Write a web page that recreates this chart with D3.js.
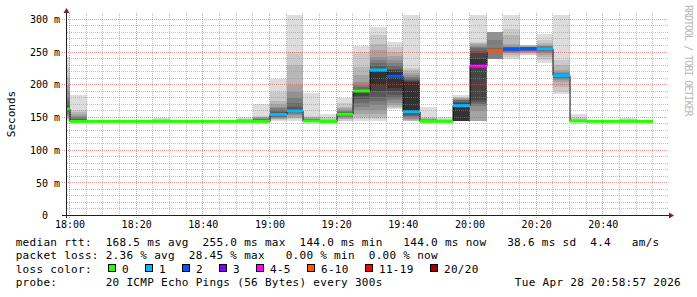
<!DOCTYPE html>
<html><head><meta charset="utf-8">
<script src="https://cdn.jsdelivr.net/npm/d3@7"></script>
<style>
html,body{margin:0;padding:0;background:#fff;}
svg{display:block;}
text{font-family:"DejaVu Sans Mono",monospace;white-space:pre;}
</style></head><body>
<svg id="chart" width="697" height="297"></svg>
<script>
// ---- data ----
const stepStarts = ["17:55","18:00","18:05","18:10","18:15","18:20","18:25","18:30","18:35","18:40","18:45","18:50",
  "18:55","19:00","19:05","19:10","19:15","19:20","19:25","19:30","19:35","19:40","19:45","19:50",
  "19:55","20:00","20:05","20:10","20:15","20:20","20:25","20:30","20:35","20:40","20:45","20:50"];
const medians = [163,144,144,144,144,144,144,144,144,144,144,144,
  144,154.5,160,144.5,143.8,155,190.5,222.5,213,158.5,144,144,
  168,228.5,252.5,254.5,255,255,214,144.5,144,144,144,144];
const losses = [0,0,0,0,0,0,0,0,0,0,0,0,
  0,1,1,0,0,0,0,1,2,1,0,0,
  1,4,7,2,2,1,1,0,0,0,0,0];
const pings = [
  [144,146,148,150,152,155,158,160,162,163,164,166,170,175,182,190,200,212,225,242],
  [144,144,144,144,144,144,144,144,144,145,145,146,147,148,150,152,155,158,162,184],
  [144,144,144,144,144,144,144,144,144,144,144,144,144,144,144,144,144,144,144,144],
  [144,144,144,144,144,144,144,144,144,144,144,144,144,144,144,144,144,144,144,144],
  [144,144,144,144,144,144,144,144,144,144,144,144,144,144,144,144,144,144,144,144],
  [144,144,144,144,144,144,144,144,144,144,144,144,144,144,144,144,144,144,144,144],
  [144,144,144,144,144,144,144,144,144,144,144,144,144,144,144,145,145,146,147,149],
  [144,144,144,144,144,144,144,144,144,144,144,144,144,144,144,144,144,144,144,144],
  [144,144,144,144,144,144,144,144,144,144,144,144,144,144,144,144,144,144,144,144],
  [144,144,144,144,144,144,144,144,144,144,144,144,144,144,144,144,144,144,144,144],
  [144,144,144,144,144,144,144,144,144,144,144,144,144,144,144,144,144,144,144,144],
  [144,144,144,144,144,144,144,144,144,144,144,144,144,144,144,145,146,147,148,150],
  [144,144,144,144,144,144,144,144,144,145,145,146,146,147,148,149,150,151,152,170],
  [145,146,147,148,149,150,151,152,153,154,155,156,158,161,164,166,170,175,189,209],
  [145,147,149,151,153,155,157,158,159,160,161,163,166,172,180,189,200,230,250,307],
  [144,144,144,144,144,144,144,144,145,145,145,146,146,147,147,148,149,150,152,187],
  [143,143,143,143,143,144,144,144,144,144,144,144,144,144,145,145,146,147,150,155],
  [144,145,147,148,150,151,152,153,154,155,156,157,158,159,160,162,164,166,172,180],
  [144,148,151,156,161,166,172,178,183,190,191,192,193,196,200,204,215,227,250,259],
  [144,147,151,156,162,169,175,181,190,199,223,224,228,233,238,243,253,263,276,288],
  [163,164,166,169,172,176,180,185,190,195,220,222,224,228,233,238,244,250,258,265],
  [144,144,144,146,148,150,152,154,156,160,204,206,208,210,212,215,218,222,226,307],
  [144,144,144,144,144,144,144,144,144,144,144,145,145,146,146,147,148,149,151,166],
  [144,144,144,144,144,144,144,144,144,144,144,144,144,144,144,144,145,146,148,150],
  [144,144,144,144,144,144,144,144,144,144,170,172,174,176,177,178,179,180,181,184],
  [144,144,144,144,160,168,171,174,176,229,240,248,252,256,258,260,263,264,265,307],
  [239,239,239,239,239,240,250,251,252,252,253,254,255,256,268,280,280,280,280,280],
  [240,243,246,248,249,250,251,252,253,253.5,255.5,256,256.5,257,258,260,263,276,286,307],
  [245,246,248,249,250,251,252,253,254,254.5,255.5,256,257,257.5,258,258.5,259,260,261,261.5],
  [234,238,242,246,248,250,252,253,254,254.5,255.5,256,257,258,259,260,261,264,268,277.5],
  [186,189,197,204,207,209,211,212,213,213.5,214.5,215,216,217,218,220,222,230,238,307],
  [144,144,144,144,144,144,144,144,144,144,144,144,144,144,145,145,146,148,150,155],
  [144,144,144,144,144,144,144,144,144,144,144,144,144,144,144,144,144,144,144,144],
  [144,144,144,144,144,144,144,144,144,144,144,144,144,144,144,144,144,144,144,144],
  [144,144,144,144,144,144,144,144,144,144,144,144,144,144,144,144,145,146,147,149],
  [144,144,144,144,144,144,144,144,144,144,144,144,144,144,144,144,144,144,144,144]
];
const yTicks = [0,50,100,150,200,250,300];
const lossLabels = ["0","1","2","3","4-5","6-10","11-19","20/20"];
const lossUpper  = [0,1,2,3,5,10,19,20];
const lossColors = ["#26ff00","#00b8ff","#0059ff","#7e00ff","#ff00ff","#ff5500","#ff0000","#a10000"];
const rttValues = [168.5,255.0,144.0,144.0];
const rttNames = ["avg","max","min","now"];
const rttSd = 38.6, rttAmS = 4.4;
const lossValues = [2.36,28.45,0.00,0.00];
const probeText = "20 ICMP Echo Pings (56 Bytes) every 300s";
const stampText = "Tue Apr 28 20:58:57 2026";

// ---- layout ----
const svg = d3.select("#chart");
svg.append("rect").attr("width",697).attr("height",297).attr("fill","#fff");
const parseT = d3.timeParse("%Y-%m-%d %H:%M");
const starts = stepStarts.map(s => parseT("2026-04-28 " + s));
const t0 = new Date(2026,3,28,17,59,15), t1 = new Date(2026,3,28,20,59,15);
const x = d3.scaleTime().domain([t0,t1]).range([67,667]);
const y = d3.scaleLinear().domain([0,309]).range([215.5,13.5]);
const px = t => Math.round(x(t) + 0.5);
const lossColor = l => lossColors[lossUpper.findIndex(u => l <= u)];

svg.append("clipPath").attr("id","clip").append("rect")
  .attr("x",67).attr("y",13).attr("width",600).attr("height",202.5);
const plot = svg.append("g").attr("clip-path","url(#clip)");

// smoke
const smoke = [];
starts.forEach((t,i) => {
  const p = pings[i];
  const x0 = px(t), x1 = px(d3.timeMinute.offset(t,5));
  for (let k = 0; k < 10; k++) {
    const lo = p[k], hi = p[19-k];
    if (hi > lo) smoke.push({x0, x1, lo, hi, g: 221 - 19*k});
  }
});
plot.selectAll("rect.smoke").data(smoke).join("rect").attr("class","smoke")
  .attr("x",d=>d.x0).attr("width",d=>d.x1-d.x0)
  .attr("y",d=>y(d.hi)).attr("height",d=>y(d.lo)-y(d.hi))
  .attr("fill",d=>`rgb(${d.g},${d.g},${d.g})`).attr("shape-rendering","crispEdges");

// grid
const grid = svg.append("g").attr("shape-rendering","crispEdges").attr("stroke-dasharray","1,1");
const minorT = d3.timeMinute.every(5).range(t0,t1);
grid.selectAll("line.vx").data(minorT).join("line")
  .attr("x1",t=>Math.floor(x(t))+0.5).attr("x2",t=>Math.floor(x(t))+0.5)
  .attr("y1",13).attr("y2",t=>t.getMinutes()%20===0?218:215)
  .attr("stroke",t=>t.getMinutes()%20===0?"rgba(222,79,79,0.6)":"rgba(143,143,143,0.55)");
const hVals = d3.range(10,301,10);
grid.selectAll("line.hy").data(hVals).join("line")
  .attr("x1",v=>v%50===0?62:67).attr("x2",668)
  .attr("y1",v=>Math.floor(y(v))+0.5).attr("y2",v=>Math.floor(y(v))+0.5)
  .attr("stroke",v=>v%50===0?"rgba(222,79,79,0.6)":"rgba(143,143,143,0.55)");

// median step line and loss-coloured bands
const stepPts = starts.map((t,i)=>[t,medians[i]]).concat([[d3.timeMinute.offset(starts[starts.length-1],5), medians[medians.length-1]]]);
plot.append("path").datum(stepPts)
  .attr("d", d3.line().x(d=>px(d[0])).y(d=>y(d[1])).curve(d3.curveStepAfter))
  .attr("fill","none").attr("stroke","#000").attr("stroke-width",1);
plot.selectAll("rect.med").data(starts).join("rect").attr("class","med")
  .attr("x",t=>px(t)).attr("width",t=>px(d3.timeMinute.offset(t,5))-px(t))
  .attr("y",(t,i)=>y(medians[i])-1.5).attr("height",3)
  .attr("fill",(t,i)=>lossColor(losses[i]));

// axes
const yAxis = d3.axisLeft(y).tickValues(yTicks).tickSize(0).tickPadding(7)
  .tickFormat(v => v === 0 ? "0  " : v + " m");
const gy = svg.append("g").attr("transform","translate(67,0)").call(yAxis);
gy.select(".domain").remove();
gy.selectAll("text").attr("font-family","DejaVu Sans Mono").attr("font-size",10).attr("fill","#000");

const xAxis = d3.axisBottom(x).ticks(d3.timeMinute.every(20)).tickFormat(d3.timeFormat("%H:%M"))
  .tickSize(0).tickPadding(5.5);
const gx = svg.append("g").attr("transform","translate(0,215.5)").call(xAxis);
gx.select(".domain").remove();
gx.selectAll("text").attr("font-family","DejaVu Sans Mono").attr("font-size",10).attr("fill","#000");

svg.append("line").attr("x1",62).attr("x2",669).attr("y1",215.5).attr("y2",215.5).attr("stroke","#1f1f1f");
svg.append("line").attr("x1",66.5).attr("x2",66.5).attr("y1",218).attr("y2",12).attr("stroke","#1f1f1f");
svg.append("path").attr("d","M669,212.5L674,215.5L669,218.5Z").attr("fill","#801f1f");
svg.append("path").attr("d","M63.5,13L66.5,8L69.5,13Z").attr("fill","#801f1f");

// axis title
svg.append("text").attr("transform","translate(14.5,114) rotate(-90)").attr("text-anchor","middle")
  .attr("font-size",11).attr("fill","#000").text("Seconds");

// watermark
svg.append("text").attr("transform","translate(684.5,5) rotate(90)")
  .attr("font-size",10).attr("letter-spacing",-1).attr("fill","#b8b8b8").text("RRDTOOL / TOBI OETIKER");

// legend
const leg = svg.append("g").attr("font-size",11).attr("letter-spacing",0.3).attr("fill","#000");
const f1 = v => v.toFixed(1), f2 = v => v.toFixed(2);
const line1 = "median rtt:  " + f1(rttValues[0]) + " ms " + rttNames[0] + "  " + f1(rttValues[1]) + " ms " + rttNames[1] +
  "  " + f1(rttValues[2]) + " ms " + rttNames[2] + "   " + f1(rttValues[3]) + " ms " + rttNames[3] +
  "   " + f1(rttSd) + " ms sd  " + f1(rttAmS) + "   am/s";
const line2 = "packet loss: " + f2(lossValues[0]) + " % avg  " + f2(lossValues[1]) + " % max   " +
  f2(lossValues[2]) + " % min  " + f2(lossValues[3]) + " % now";
leg.append("text").attr("x",15.7).attr("y",245.5).text(line1);
leg.append("text").attr("x",15.7).attr("y",259).text(line2);
leg.append("text").attr("x",15.7).attr("y",272.8).text("loss color:");
leg.append("text").attr("x",15.7).attr("y",286.3).text("probe:       " + probeText);
leg.append("text").attr("x",681).attr("y",286.3).attr("text-anchor","end").text(stampText);
let bx = 108.5;
lossLabels.forEach((lab,i) => {
  leg.append("rect").attr("x",bx).attr("y",264.5).attr("width",7).attr("height",7)
    .attr("fill",lossColors[i]).attr("stroke","#000").attr("stroke-width",1);
  leg.append("text").attr("x",bx+13.5).attr("y",272.8).text(lab);
  bx += 30 + 7*lab.length;
});
</script>
</body></html>
